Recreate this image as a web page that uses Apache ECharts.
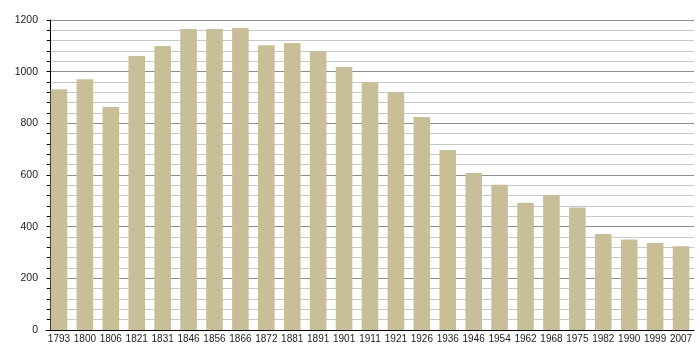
<!DOCTYPE html>
<html>
<head>
<meta charset="utf-8">
<style>html,body{margin:0;padding:0;background:#fff;}#c{width:700px;height:360px;}</style>
<script src="https://cdn.jsdelivr.net/npm/echarts@6/dist/echarts.min.js"></script>
</head>
<body>
<div id="c"></div>
<script>
const years = ['1793','1800','1806','1821','1831','1846','1856','1866','1872','1881','1891','1901','1911','1921','1926','1936','1946','1954','1962','1968','1975','1982','1990','1999','2007'];
const population = [932,971,863,1061,1099,1165,1165,1169,1102,1111,1079,1018,959,921,825,697,608,562,493,523,474,372,350,337,324];
const yTicks = [0,200,400,600,800,1000,1200];

const chart = echarts.init(document.getElementById('c'), null, {renderer:'canvas'});
chart.setOption({
  animation:false,
  backgroundColor:'#ffffff',
  grid:{left:46,right:6,top:20,bottom:30},
  xAxis:{
    type:'category',
    data:years,
    boundaryGap:true,
    axisLine:{show:true,lineStyle:{color:'#000',width:1}},
    axisTick:{show:false},
    axisLabel:{color:'#222',fontFamily:'Liberation Sans',fontSize:10,margin:4,interval:0}
  },
  yAxis:{
    type:'value',
    min:yTicks[0],max:yTicks[yTicks.length-1],interval:200,
    offset:-4,
    axisLine:{show:true,lineStyle:{color:'#000',width:1}},
    axisTick:{show:true,length:3,lineStyle:{color:'#000'}},
    minorTick:{show:true,splitNumber:5,length:3,lineStyle:{color:'#000'}},
    splitLine:{show:true,lineStyle:{color:'#8c8c8c',width:1}},
    minorSplitLine:{show:true,lineStyle:{color:'#c8c8c8',width:1}},
    axisLabel:{color:'#222',fontFamily:'Liberation Sans',fontSize:10.5,margin:12,formatter:function(v){return String(v);}}
  },
  series:[{
    type:'bar',
    data:population,
    barWidth:'64%',
    itemStyle:{color:'#c8bf99'}
  }]
});
</script>
</body>
</html>
